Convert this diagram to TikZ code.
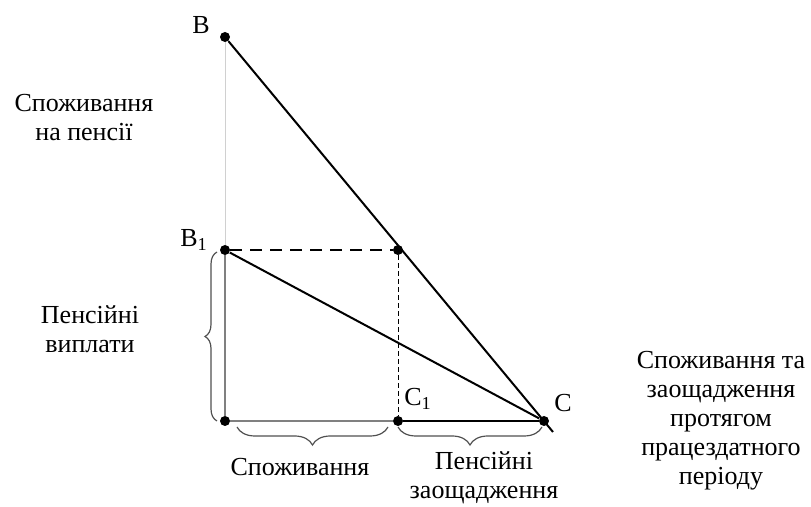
\documentclass[tikz,border=0pt]{standalone}
\usepackage{fontspec}
\setmainfont{Liberation Serif}
\usetikzlibrary{decorations.pathreplacing}
\definecolor{caxis}{HTML}{808080}
\definecolor{clite}{HTML}{D0D0D0}
\definecolor{cbrace}{HTML}{505050}

\begin{document}
\begin{tikzpicture}[x=0.5pt,y=-0.5pt,
  dot/.style={circle,fill=black,inner sep=0pt,minimum size=5pt},
  lbl/.style={font=\fontsize{13}{14.5}\selectfont,align=center},
  brc/.style={cbrace,line width=0.6pt,decorate,decoration={brace,amplitude=#1}}]
  \useasboundingbox (0,0) rectangle (811,507);
  % points
  \node[dot] (B) at (225,37) {};
  \node[dot] (B1) at (225,250) {};
  \node[dot] (O) at (225,421) {};
  \node[dot] (D) at (398,250) {};
  \node[dot] (C1) at (398,421) {};
  \node[dot] (C) at (544,421) {};
  \coordinate (Cend) at (553,432);
  % lines
  \draw[clite,line width=0.5pt] (B) -- (B1);
  \draw[caxis,line width=0.6pt] (B1) -- (O);
  \draw[caxis,line width=0.6pt] (O) -- (C1);
  \draw[line width=1.1pt] (C1) -- (C);
  \draw[line width=1pt] (B) -- (Cend);
  \draw[line width=1pt] (B1) -- (C);
  \draw[line width=1.1pt,dash pattern=on 6pt off 4pt] (B1) -- (D);
  \draw[line width=0.5pt,dash pattern=on 2.5pt off 1.5pt] (D) -- (C1);
  % braces
  \draw[brc=6pt] (217,421) -- (217,252);
  \draw[brc=9pt] (388,427) -- (237,427);
  \draw[brc=9pt] (542,427) -- (398,427);
  % labels
  \node[lbl] (lB) at (201,25) {B};
  \node[lbl] (lB1) at (194,240) {B\textsubscript{1}};
  \node[lbl] (lC1) at (418,399) {C\textsubscript{1}};
  \node[lbl] (lC) at (563,403) {C};
  \node[lbl] (tret) at (84,118) {Споживання\\на пенсії};
  \node[lbl] (tpay) at (90,329) {Пенсійні\\виплати};
  \node[lbl] (tcons) at (300,467) {Споживання};
  \node[lbl] (tsave) at (484,478) {Пенсійні\\заощадження};
  \node[lbl] (twork) at (721,421) {Споживання та\\заощадження\\протягом\\працездатного\\періоду};
\end{tikzpicture}
\end{document}
